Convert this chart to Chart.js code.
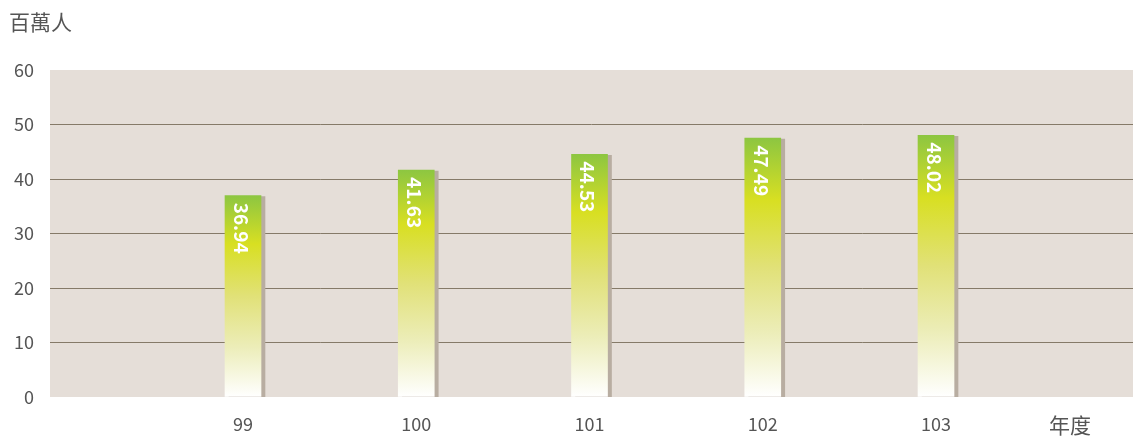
<!DOCTYPE html>
<html>
<head>
<meta charset="utf-8">
<script src="https://cdn.jsdelivr.net/npm/chart.js@4/dist/chart.umd.min.js"></script>
<style>
  html, body { margin: 0; padding: 0; background: #ffffff; }
  #wrap { width: 1134px; height: 436px; position: relative; }
</style>
</head>
<body>
<div id="wrap"><canvas id="c"></canvas></div>
<script>
const years = ['99', '100', '101', '102', '103'];
const visitors = [36.94, 41.63, 44.53, 47.49, 48.02];
const yTicks = [0, 10, 20, 30, 40, 50, 60];
const yUnit = '百萬人';
const xUnit = '年度';

const FONT = '"Noto Sans CJK TC", "Noto Sans", sans-serif';
const TEXT = '#555555';

function barGradient(context) {
  const chart = context.chart;
  const { ctx, chartArea, scales } = chart;
  if (!chartArea || !context.parsed) return '#d9e021';
  const top = scales.y.getPixelForValue(context.parsed.y);
  const bottom = scales.y.getPixelForValue(0);
  const g = ctx.createLinearGradient(0, top, 0, bottom);
  g.addColorStop(0, '#8dc641');
  g.addColorStop(0.24, '#d8df22');
  g.addColorStop(0.5, '#e1e178');
  g.addColorStop(0.75, '#ecedb8');
  g.addColorStop(1, '#ffffff');
  return g;
}

const plotBg = {
  id: 'plotBg',
  beforeDraw(chart) {
    const { ctx, chartArea: a } = chart;
    ctx.save();
    ctx.fillStyle = '#e5ded8';
    ctx.fillRect(a.left, a.top, a.right - a.left, a.bottom - a.top);
    ctx.restore();
  }
};

const barShadow = {
  id: 'barShadow',
  beforeDatasetDraw(chart) {
    const ctx = chart.ctx;
    ctx.save();
    ctx.shadowColor = '#b8ada1';
    ctx.shadowOffsetX = 4;
    ctx.shadowOffsetY = 1;
    ctx.shadowBlur = 0;
  },
  afterDatasetDraw(chart) {
    chart.ctx.restore();
  }
};

const barLabels = {
  id: 'barLabels',
  afterDatasetsDraw(chart) {
    const ctx = chart.ctx;
    const meta = chart.getDatasetMeta(0);
    ctx.save();
    ctx.fillStyle = '#ffffff';
    ctx.font = 'bold 19px ' + FONT;
    ctx.textAlign = 'left';
    ctx.textBaseline = 'middle';
    meta.data.forEach((el, i) => {
      ctx.save();
      ctx.translate(el.x - 2, el.y + 7);
      ctx.rotate(Math.PI / 2);
      ctx.fillText(visitors[i].toFixed(2), 0, 0);
      ctx.restore();
    });
    ctx.restore();
  }
};

const unitTitles = {
  id: 'unitTitles',
  afterDraw(chart) {
    const { ctx, chartArea: a } = chart;
    ctx.save();
    ctx.fillStyle = TEXT;
    ctx.font = '21px ' + FONT;
    ctx.textBaseline = 'middle';
    ctx.textAlign = 'left';
    ctx.fillText(yUnit, 9, 22);
    ctx.textAlign = 'center';
    ctx.fillText(xUnit, a.right - 63, 425);
    ctx.restore();
  }
};

new Chart(document.getElementById('c'), {
  type: 'bar',
  data: {
    datasets: [{
      data: years.map((y, i) => ({ x: Number(y), y: visitors[i] })),
      backgroundColor: barGradient,
      borderWidth: 0,
      barThickness: 36
    }]
  },
  options: {
    responsive: true,
    maintainAspectRatio: false,
    animation: false,
    devicePixelRatio: 1,
    layout: { padding: { top: 70, right: 1, left: 0, bottom: 0 } },
    plugins: { legend: { display: false }, tooltip: { enabled: false } },
    scales: {
      x: {
        type: 'linear',
        offset: false,
        min: 97.886,
        max: 104.137,
        afterBuildTicks(scale) { scale.ticks = years.map(y => ({ value: Number(y) })); },
        afterFit(scale) { scale.height = 39; },
        grid: { display: false, drawTicks: false, offset: false },
        border: { display: false },
        ticks: {
          padding: 16,
          color: TEXT,
          font: { family: FONT, size: 18 },
          callback: (v) => String(v),
          maxRotation: 0,
          autoSkip: false
        }
      },
      y: {
        min: 0,
        max: 60,
        afterBuildTicks(scale) { scale.ticks = yTicks.map(v => ({ value: v })); },
        afterFit(scale) { scale.width = 50; },
        grid: {
          drawTicks: false,
          color: (c) => (c.tick && (c.tick.value === 0 || c.tick.value === 60)) ? 'rgba(0,0,0,0)' : '#857a68',
          lineWidth: 1
        },
        border: { display: false },
        ticks: {
          padding: 16,
          color: TEXT,
          font: { family: FONT, size: 18 }
        }
      }
    }
  },
  plugins: [plotBg, barShadow, barLabels, unitTitles]
});
</script>
</body>
</html>
